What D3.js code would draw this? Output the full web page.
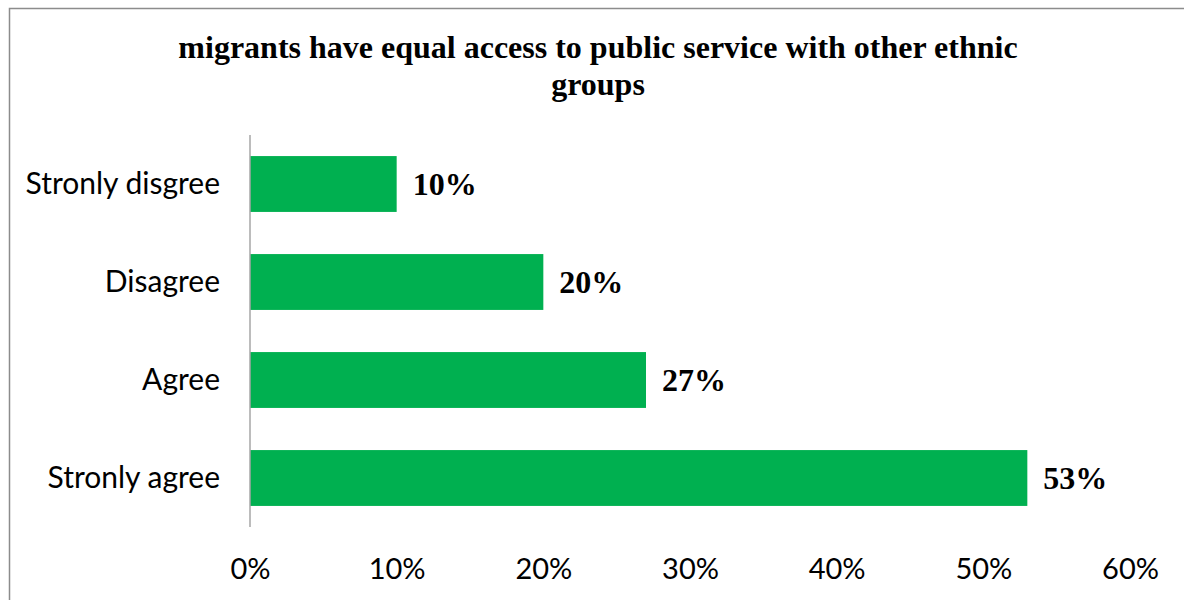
<!DOCTYPE html>
<html><head><meta charset="utf-8">
<script src="https://cdn.jsdelivr.net/npm/d3@7"></script>
<style>html,body{margin:0;padding:0;background:#fff;overflow:hidden}</style>
</head><body>
<svg id="chart" width="1184" height="600"></svg>
<script>
const categories = ["Stronly disgree", "Disagree", "Agree", "Stronly agree"];
const values = [10, 20, 27, 53];
const tickValues = [0, 10, 20, 30, 40, 50, 60];
const titleLines = ["migrants have equal access to public service with other ethnic", "groups"];

const svg = d3.select("#chart");
svg.append("rect").attr("x", 9.5).attr("y", 8.5).attr("width", 1200).attr("height", 700)
  .attr("fill", "#fff").attr("stroke", "#8c8c8c").attr("stroke-width", 1.5);

const x = d3.scaleLinear().domain([0, 60]).range([250, 1130]);
const y = d3.scaleBand().domain(categories).range([135, 527]).paddingInner(0.43).paddingOuter(0.215);

svg.selectAll("text.title").data(titleLines).enter().append("text")
  .attr("x", 598).attr("y", (d, i) => 58 + i * 37)
  .attr("text-anchor", "middle").attr("font-family", "Liberation Serif, serif")
  .attr("font-weight", "bold").attr("font-size", 32).attr("fill", "#000").text(d => d);

svg.selectAll("rect.bar").data(values).enter().append("rect")
  .attr("x", x(0)).attr("y", (d, i) => y(categories[i]))
  .attr("width", d => x(d) - x(0)).attr("height", y.bandwidth()).attr("fill", "#00b050");

svg.selectAll("text.val").data(values).enter().append("text")
  .attr("x", d => x(d) + 16).attr("y", (d, i) => y(categories[i]) + y.bandwidth() / 2)
  .attr("dy", "0.35em").attr("font-family", "Liberation Serif, serif").attr("font-weight", "bold")
  .attr("font-size", 32).attr("fill", "#000").text(d => d + "%");

const yAxis = svg.append("g").attr("transform", "translate(250,0)")
  .call(d3.axisLeft(y).tickSize(0).tickPadding(30));
yAxis.select(".domain").attr("stroke", "#a6a6a6").attr("stroke-width", 1.5).attr("d", "M0,135V527");
yAxis.selectAll("text").attr("font-family", "Lato, sans-serif").attr("font-size", 30).attr("fill", "#000");

const xAxis = svg.append("g").attr("transform", "translate(0,527)")
  .call(d3.axisBottom(x).tickValues(tickValues).tickSize(0).tickPadding(31).tickFormat(d => d + "%"));
xAxis.select(".domain").remove();
xAxis.selectAll("text").attr("font-family", "Lato, sans-serif").attr("font-size", 29).attr("fill", "#000");
</script>
</body></html>
